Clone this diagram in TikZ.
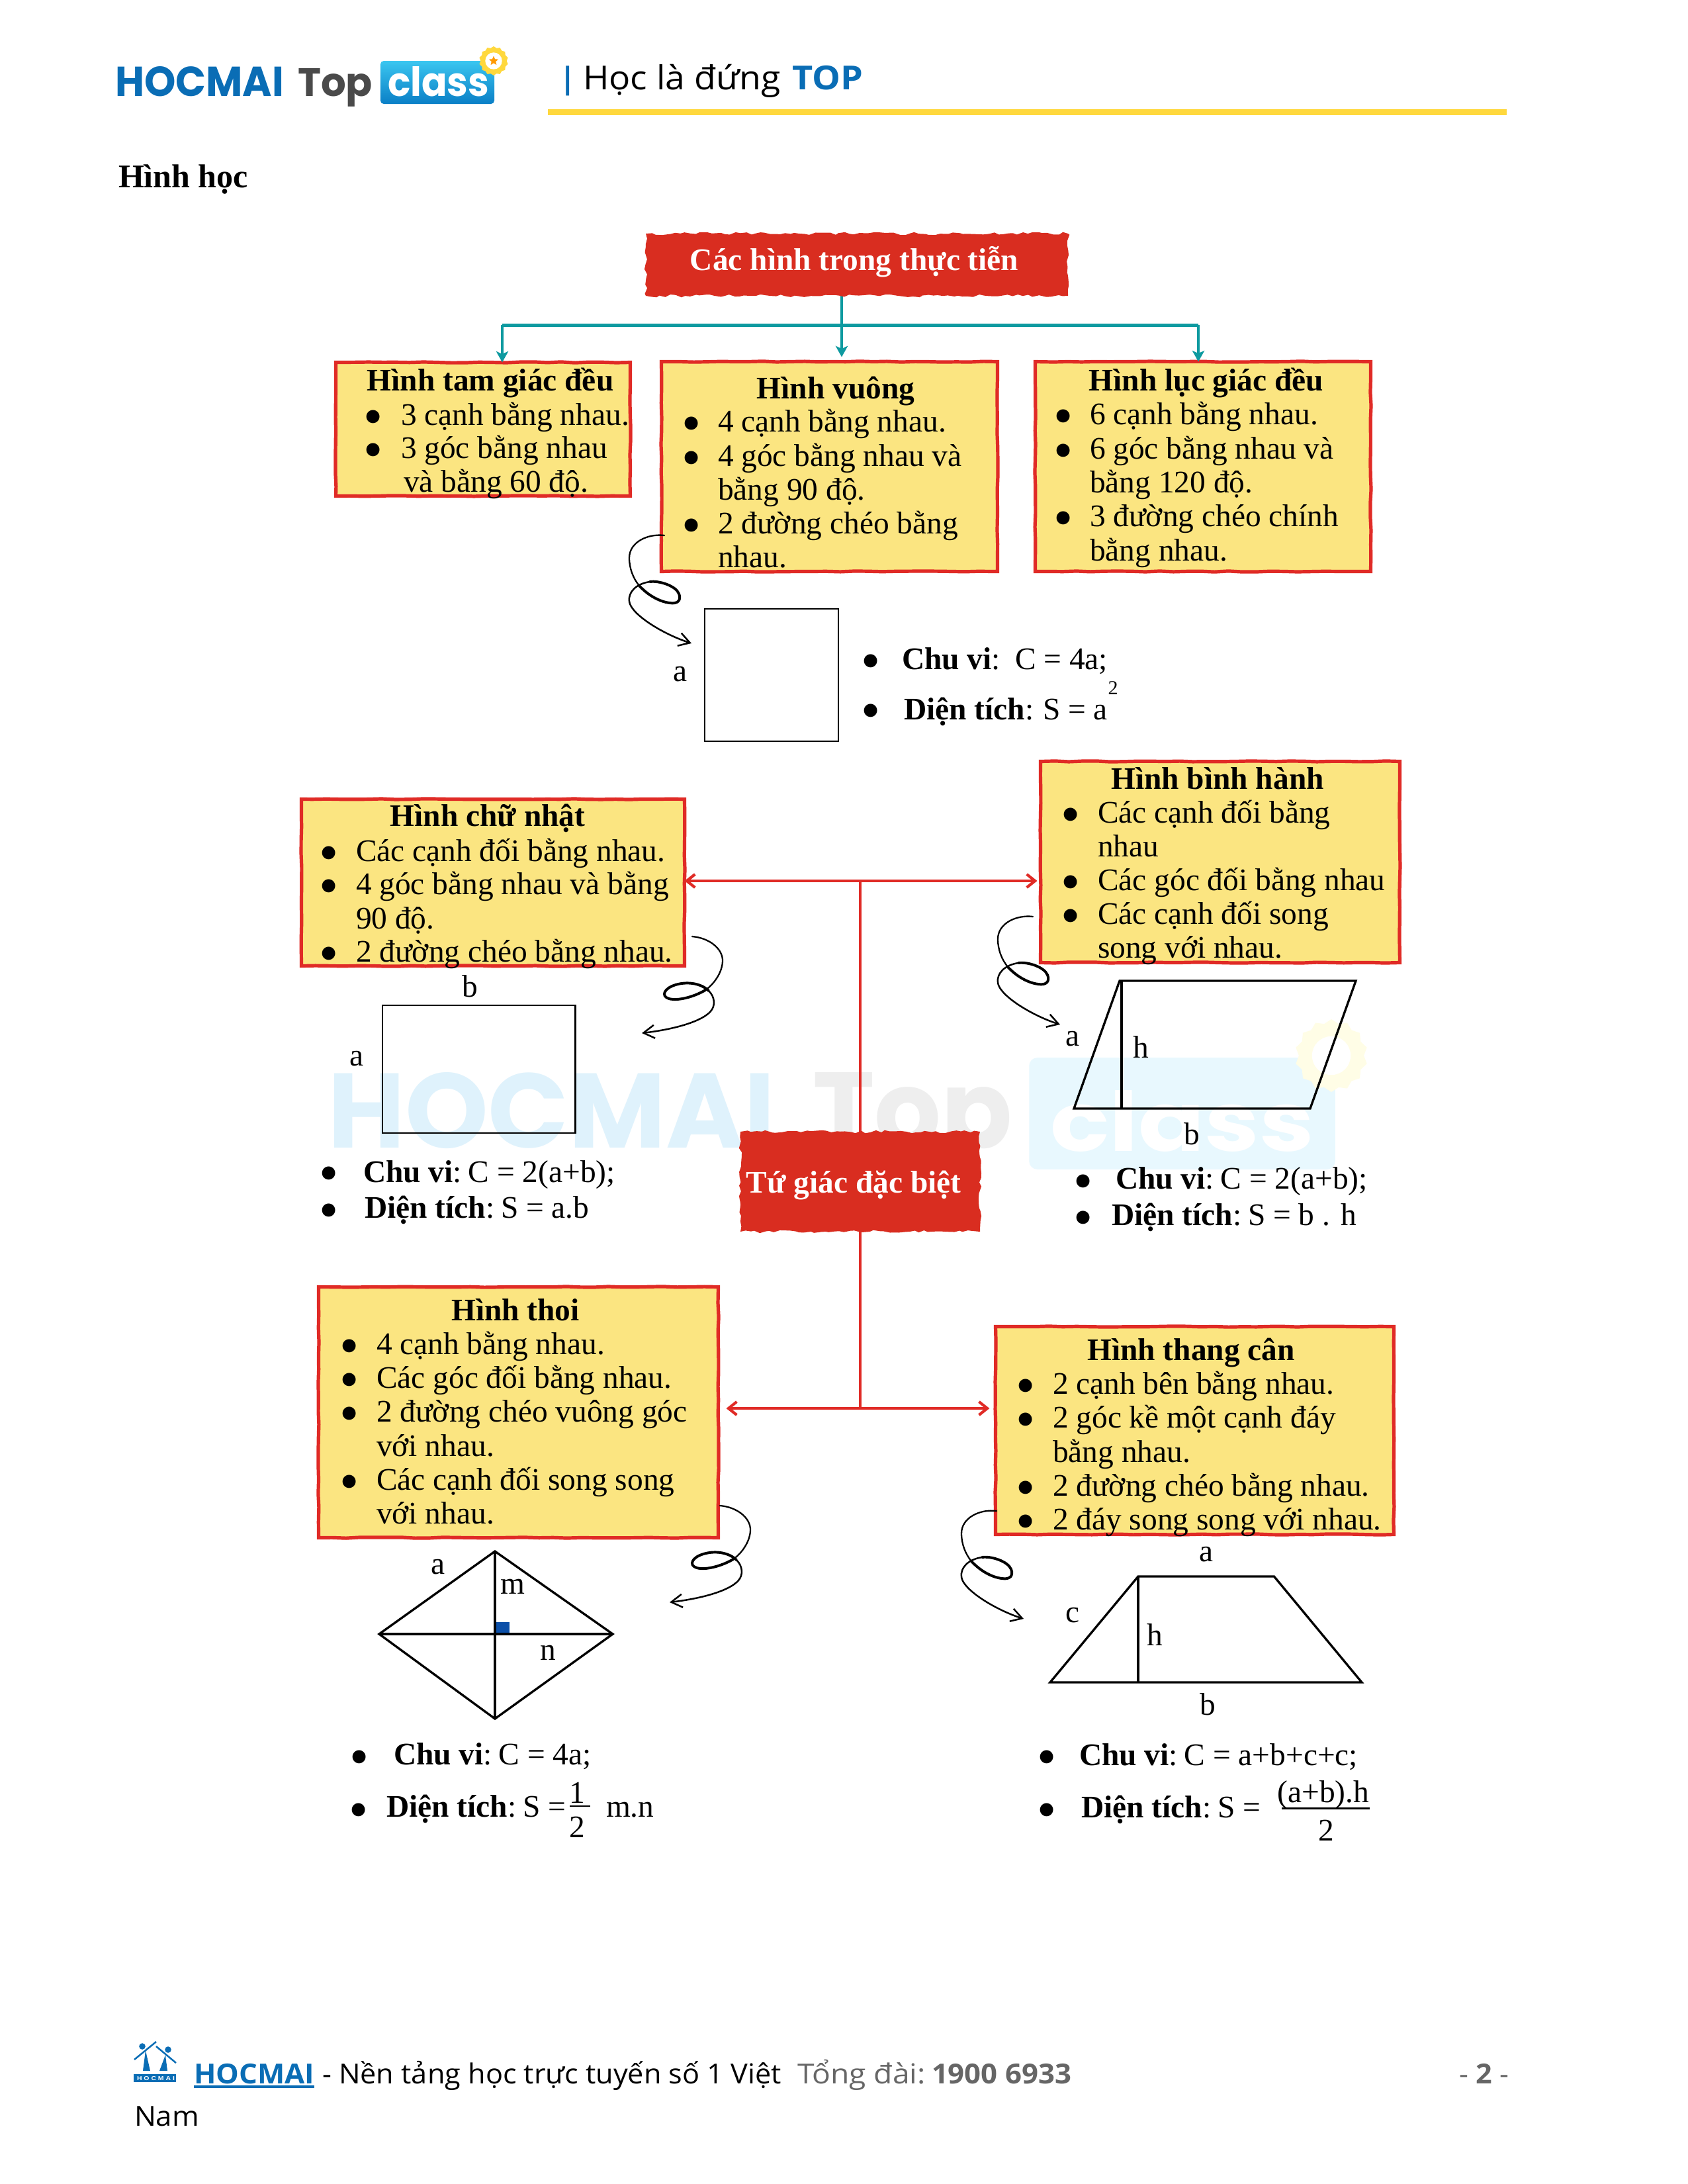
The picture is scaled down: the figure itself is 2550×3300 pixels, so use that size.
\documentclass[tikz,border=0pt]{standalone}
\usepackage{fontspec}
\usepackage{graphicx}
\usetikzlibrary{arrows.meta,decorations.pathmorphing,shapes.geometric,calc}
\setmainfont{Liberation Serif}
\newfontfamily\osans{Open Sans}
\newfontfamily\pop{Poppins}
\newfontfamily\lsans{Liberation Sans}
\newdimen\pxu \pxu=0.24bp
\definecolor{hmblue}{HTML}{0A6DB5}
\definecolor{hmgrey}{HTML}{4A4A4A}
\definecolor{ruleyel}{HTML}{FFD83D}
\definecolor{boxyel}{HTML}{FBE581}
\definecolor{boxred}{HTML}{E02B26}
\definecolor{banred}{HTML}{D92D20}
\definecolor{tealc}{HTML}{0E9AA0}
\definecolor{wmblue}{HTML}{DFF2FC}
\definecolor{wmgrey}{HTML}{EEEEEE}
\definecolor{wmbox}{HTML}{E8F8FE}
\definecolor{wmgear}{HTML}{FFFDE6}
\definecolor{sqblue}{HTML}{0B4FA8}
\definecolor{footgrey}{HTML}{666666}
\definecolor{classtop}{HTML}{3BC6F0}
\definecolor{classbot}{HTML}{0A7FC6}
\newcommand\bodyf{\fontsize{11.38bp}{13bp}\selectfont}
\newcount\txc
\newcommand\tx[4][body]{\global\advance\txc by 1 \node[#1] (t\the\txc) at ({#2},{#3}) {#4};}
\newcommand\bl[2]{\tx[dotb]{#1+1.5}{#2+15}{•}}
\newcommand\wfit[2]{\resizebox{#1\pxu}{\height}{#2}}
\newcommand\cln{:\kern-2\pxu\ }
\newcommand\ybox[5]{\node[yellowbox,minimum width={(#4-#2-5)*0.24bp},minimum height={(#5-#3-5)*0.24bp}] (#1) at ({(#2+#4)/2},{(#3+#5)/2}) {};}
\newcommand\banner[5]{\node[torn,minimum width={(#4-#2)*0.24bp},minimum height={(#5-#3)*0.24bp}] (#1) at ({(#2+#4)/2},{(#3+#5)/2}) {};}
\tikzset{
  body/.style={font=\bodyf,anchor=base west,inner sep=0pt,outer sep=0pt},
  ttl/.style={font=\bodyf\bfseries,anchor=base,inner sep=0pt,outer sep=0pt},
  lbl/.style={font=\bodyf,anchor=base,inner sep=0pt,outer sep=0pt},
  bant/.style={font=\bodyf\bfseries,anchor=base west,inner sep=0pt,text=white},
  dotb/.style={font=\fontsize{20bp}{21bp}\selectfont,anchor=base,inner sep=0pt},
  plain/.style={anchor=base west,inner sep=0pt,outer sep=0pt},
  yellowbox/.style={fill=boxyel,draw=boxred,line width=1.25bp,inner sep=0pt,outer sep=0pt,decorate,
    decoration={random steps,segment length=5bp,amplitude=0.15bp}},
  torn/.style={fill=banred,inner sep=0pt,outer sep=0pt,decorate,
    decoration={random steps,segment length=1.8bp,amplitude=0.55bp}},
  tealline/.style={draw=tealc,line width=1bp},
  tealarrow/.style={draw=tealc,line width=1bp,-{Stealth[length=4bp,width=4.4bp,inset=1bp]}},
  redline/.style={draw=boxred,line width=1bp},
  redarrow/.style={draw=boxred,line width=1bp,-{Straight Barb[length=3bp,width=4.8bp]}},
  fig/.style={draw=black,line width=0.8bp},
  swirlL/.pic={
    \draw[line width=0.55bp,line cap=round] (0,0) .. controls (-25,-3) and (-53,10) .. (-53,34) .. controls (-53,50) and (-47,65) .. (-38,76);
    \draw[line width=0.95bp,line cap=round] (-38,76) .. controls (-25,90) and (-8,100) .. (8,102) .. controls (20,104) and (26,98) .. (22,88) .. controls (17,76) and (-8,68) .. (-22,70);
    \draw[line width=0.6bp,line cap=round,-{Straight Barb[length=4bp,width=4.8bp]}] (-22,70) .. controls (-42,73) and (-55,85) .. (-53,100) .. controls (-50,120) and (0,150) .. (41,163);
  },
  swirlR/.pic={
    \draw[line width=0.55bp,line cap=round] (0,0) .. controls (25,2) and (47,18) .. (46,38) .. controls (45,55) and (33,72) .. (20,81);
    \draw[line width=0.95bp,line cap=round] (20,81) .. controls (5,90) and (-20,98) .. (-35,94) .. controls (-48,90) and (-42,78) .. (-25,73) .. controls (-5,67) and (15,72) .. (25,82);
    \draw[line width=0.6bp,line cap=round,-{Straight Barb[length=4bp,width=4.8bp]}] (25,82) .. controls (35,92) and (35,105) .. (28,113) .. controls (15,128) and (-25,140) .. (-76,146);
  }
}
\begin{document}
\begin{tikzpicture}[x=0.24bp,y=-0.24bp]
\pgfmathsetseed{7}
\useasboundingbox (0,0) rectangle (2550,3300);
\fill[white] (0,0) rectangle (2550,3300);

% watermark
\tx[plain,text=wmblue,font=\pop\bfseries]{495}{1734}{\resizebox{677\pxu}{114\pxu}{HOCMAI}}
\tx[plain,text=wmgrey,font=\pop\bfseries]{1228}{1734}{\resizebox{302\pxu}{114\pxu}{Top}}
\node[fill=wmbox,rounded corners=3bp,inner sep=0pt,minimum width=111bp,minimum height=40.5bp] (wmb) at (1786.5,1682.5) {};
\tx[plain,text=white,font=\pop\bfseries]{1587}{1739}{\resizebox{399\pxu}{92\pxu}{class}}
\node[star,star points=14,star point ratio=1.12,fill=wmgear,minimum size=26.4bp,inner sep=0pt] (wmg) at (2012,1595) {};
\node[circle,fill=white,minimum size=14bp,inner sep=0pt] (wmh) at (2012,1595) {};

% header
\tx[plain,text=hmblue,font=\pop\bfseries]{174}{145}{\resizebox{255\pxu}{45\pxu}{HOCMAI}}
\tx[plain,text=hmgrey,font=\pop\bfseries]{450}{145}{\resizebox{113\pxu}{42\pxu}{Top}}
\node[rounded corners=1.2bp,top color=classtop,bottom color=classbot,inner sep=0pt,minimum width=41.3bp,minimum height=15.6bp] (cbox) at (661,124.5) {};
\tx[plain,text=white,font=\pop\bfseries]{586}{145}{\resizebox{153\pxu}{45\pxu}{class}}
\node[star,star points=14,star point ratio=1.12,fill=ruleyel,minimum size=10.6bp,inner sep=0pt] (gear) at (746,92) {};
\node[circle,fill=white,minimum size=6.1bp,inner sep=0pt] (gearh) at (746,92) {};
\node[star,star points=5,star point ratio=2.2,fill=orange!80!yellow,minimum size=3.6bp,inner sep=0pt] (gears) at (746,92) {};
\tx[anchor=base,inner sep=0pt,text=hmblue,font=\osans\bfseries\fontsize{11bp}{13bp}\selectfont]{858}{134}{|}
\tx[plain,font=\osans\fontsize{12bp}{14bp}\selectfont]{881}{135}{\wfit{299}{Học là đứng}}
\tx[plain,text=hmblue,font=\osans\bfseries\fontsize{12bp}{14bp}\selectfont]{1197}{135}{\wfit{107}{TOP}}
\fill[ruleyel] (828,165) rectangle (2277,174);
\tx[plain,font=\fontsize{12bp}{14bp}\selectfont\bfseries]{179}{283}{Hình học}

% coordinates of the connector junctions
\coordinate (tj) at (1272,491);
\coordinate (tl) at (759,491);
\coordinate (tr) at (1811,491);
\coordinate (ru) at (1300,1331);
\coordinate (rd) at (1300,2128);

% boxes
\ybox{btam}{505}{545}{955}{752}
\ybox{bvuong}{997}{544}{1510}{866}
\ybox{bluc}{1562}{544}{2074}{866}
\ybox{bchu}{453}{1205}{1037}{1462}
\ybox{bbinh}{1570}{1148}{2118}{1457}
\ybox{bthoi}{479}{1942}{1088}{2326}
\ybox{bthang}{1502}{2002}{2109}{2321}

% connectors
\draw[tealline] (1272,438) -- (tj);
\draw[tealline,line width=1.2bp] (tl) -- (tr);
\draw[tealarrow] (tj) -- ([yshift=1.7bp]tj |- bvuong.north);
\draw[tealarrow] (tl) -- (tl |- btam.north);
\draw[tealarrow] (tr) -- (tr |- bluc.north);
\draw[redline] (ru) -- (rd);
\draw[redarrow] (ru) -- (ru -| bchu.east);
\draw[redarrow] (ru) -- ([xshift=-1.2bp]ru -| bbinh.west);
\draw[redarrow] (rd) -- ([xshift=2.9bp]rd -| bthoi.east);
\draw[redarrow] (rd) -- ([xshift=-2.2bp]rd -| bthang.west);

% banners
\banner{ban1}{976}{353}{1614}{447}
\banner{ban2}{1119}{1710}{1481}{1861}
\tx[bant]{1042}{408}{Các hình trong thực tiễn}
\tx[bant]{1127}{1802}{Tứ giác đặc biệt}

% Hinh tam giac deu
\tx[ttl]{741}{590}{Hình tam giác đều}
\bl{563}{642}\tx{606}{642}{3 cạnh bằng nhau.}
\bl{563}{692}\tx{606}{692}{3 góc bằng nhau}
\tx{610}{743}{và bằng 60 độ.}

% Hinh vuong
\tx[ttl]{1263}{602}{Hình vuông}
\bl{1044}{652}\tx{1085}{652}{4 cạnh bằng nhau.}
\bl{1044}{704}\tx{1085}{704}{4 góc bằng nhau và}
\tx{1085}{755}{bằng 90 độ.}
\bl{1044}{806}\tx{1085}{806}{2 đường chéo bằng}
\tx{1085}{857}{nhau.}

% Hinh luc giac deu
\tx[ttl]{1823}{590}{Hình lục giác đều}
\bl{1606}{641}\tx{1647}{641}{6 cạnh bằng nhau.}
\bl{1606}{693}\tx{1647}{693}{6 góc bằng nhau và}
\tx{1647}{744}{bằng 120 độ.}
\bl{1606}{795}\tx{1647}{795}{3 đường chéo chính}
\tx{1647}{847}{bằng nhau.}

% square figure
\coordinate (sv) at (1004,809);
\pic at (sv) {swirlL};
\draw[fig,line width=0.55bp] (1065,920) rectangle (1267,1120);
\tx[lbl]{1028}{1029}{a}
\bl{1315}{1011}\tx{1363}{1011}{\textbf{Chu vi}:}
\tx{1534}{1011}{C = 4a;}
\bl{1315}{1086}\tx{1366}{1087}{\textbf{Diện tích}:}
\tx{1576}{1087}{S = a}
\tx[lbl,font=\fontsize{7.2bp}{8bp}\selectfont]{1682}{1049}{2}

% Hinh chu nhat
\tx[ttl]{737}{1248}{Hình chữ nhật}
\bl{496}{1301}\tx{538}{1301}{Các cạnh đối bằng nhau.}
\bl{496}{1351}\tx{538}{1351}{4 góc bằng nhau và bằng}
\tx{538}{1403}{90 độ.}
\bl{496}{1453}\tx{538}{1453}{2 đường chéo bằng nhau.}
\coordinate (sc) at (1046,1415);
\pic at (sc) {swirlR};
\draw[fig,line width=0.6bp] (578,1519) rectangle (869.5,1712);
\tx[lbl]{710}{1506}{b}
\tx[lbl]{539}{1610}{a}
\bl{496}{1785}\tx{549}{1786}{\textbf{Chu vi}\cln C = 2(a+b);}
\bl{496}{1841}\tx{551}{1840}{\textbf{Diện tích}\cln S = a.b}

% Hinh binh hanh
\tx[ttl]{1840}{1192}{Hình bình hành}
\bl{1617}{1243}\tx{1659}{1243}{Các cạnh đối bằng}
\tx{1659}{1294}{nhau}
\bl{1617}{1345}\tx{1659}{1345}{Các góc đối bằng nhau}
\bl{1617}{1396}\tx{1659}{1396}{Các cạnh đối song}
\tx{1659}{1447}{song với nhau.}
\coordinate (sb) at (1561,1385);
\pic at (sb) {swirlL};
\draw[fig] (1692,1482) -- (2049,1482) -- (1980,1675) -- (1623,1675) -- cycle;
\draw[fig] (1695,1482) -- (1695,1675);
\tx[lbl]{1621}{1580}{a}
\tx[lbl]{1724}{1598}{h}
\tx[lbl]{1801}{1729}{b}
\bl{1636}{1797}\tx{1686}{1796}{\textbf{Chu vi}\cln C = 2(a+b);}
\bl{1636}{1852}\tx{1680}{1851}{\textbf{Diện tích}\cln S = b . h}

% Hinh thoi
\tx[ttl]{779}{1995}{Hình thoi}
\bl{527}{2046}\tx{569}{2046}{4 cạnh bằng nhau.}
\bl{527}{2097}\tx{569}{2097}{Các góc đối bằng nhau.}
\bl{527}{2148}\tx{569}{2148}{2 đường chéo vuông góc}
\tx{569}{2200}{với nhau.}
\bl{527}{2251}\tx{569}{2251}{Các cạnh đối song song}
\tx{569}{2302}{với nhau.}
\coordinate (st) at (1088,2275);
\pic at (st) {swirlR};
\fill[sqblue] (749,2451) rectangle (770,2469);
\draw[fig] (748,2344) -- (926,2469) -- (748,2597) -- (573,2469) -- cycle;
\draw[fig] (748,2344) -- (748,2597);
\draw[fig] (573,2469) -- (926,2469);
\tx[lbl]{662}{2378}{a}
\tx[lbl]{775}{2408}{m}
\tx[lbl]{828}{2508}{n}
\bl{542}{2667}\tx{595}{2666}{\textbf{Chu vi}\cln C = 4a;}
\bl{541}{2747}\tx{584}{2745}{\textbf{Diện tích}\cln S =}
\tx[lbl]{872}{2724}{1}
\draw[line width=0.5bp] (861,2729) -- (892,2729);
\tx[lbl]{872}{2776}{2}
\tx{916}{2745}{m.n}

% Hinh thang can
\tx[ttl]{1800}{2055}{Hình thang cân}
\bl{1549}{2106}\tx{1591}{2106}{2 cạnh bên bằng nhau.}
\bl{1549}{2157}\tx{1591}{2157}{2 góc kề một cạnh đáy}
\tx{1591}{2209}{bằng nhau.}
\bl{1549}{2260}\tx{1591}{2260}{2 đường chéo bằng nhau.}
\bl{1549}{2311}\tx{1591}{2311}{2 đáy song song với nhau.}
\coordinate (sh) at (1506,2283);
\pic at (sh) {swirlL};
\draw[fig] (1587,2542) -- (1720,2382) -- (1925.5,2382) -- (2058,2542) -- cycle;
\draw[fig] (1720,2382) -- (1720,2542);
\tx[lbl]{1823}{2359}{a}
\tx[lbl]{1621}{2451}{c}
\tx[lbl]{1745}{2486}{h}
\tx[lbl]{1825.5}{2591}{b}
\bl{1581}{2667}\tx{1631}{2667}{\textbf{Chu vi}\cln C = a+b+c+c;}
\bl{1581}{2747}\tx{1634}{2746}{\textbf{Diện tích}\cln S =}
\tx[lbl]{2000}{2723}{(a+b).h}
\draw[line width=0.5bp] (1937,2732.5) -- (2070,2732.5);
\tx[lbl]{2004}{2781}{2}

% footer logo
\fill[hmblue] (215,3092) circle (4.8);
\fill[hmblue] (254,3097) circle (4.8);
\draw[hmblue,line width=0.6bp] (203,3112) -- (236,3085);
\draw[hmblue,line width=0.6bp] (236,3092) -- (266,3117);
\fill[hmblue] (220,3098) -- (227,3129) -- (216,3129) -- cycle;
\fill[hmblue] (250,3105) -- (253,3129) -- (241,3129) -- cycle;
\fill[hmblue] (202,3134) rectangle (266,3146);
\tx[plain,text=white,font=\lsans\bfseries\fontsize{2bp}{2bp}\selectfont]{207}{3143}{\resizebox{57\pxu}{6\pxu}{H O C M A I}}

% footer text
\tx[plain,text=hmblue,font=\osans\bfseries\fontsize{10bp}{12bp}\selectfont]{293}{3148}{\wfit{182}{HOCMAI}}
\fill[hmblue] (293,3151) rectangle (475,3155);
\tx[plain,font=\osans\fontsize{10bp}{12bp}\selectfont]{487}{3148}{\wfit{694}{- Nền tảng học trực tuyến số 1 Việt}}
\tx[plain,text=footgrey,font=\osans\fontsize{10bp}{12bp}\selectfont]{1205}{3148}{\wfit{194}{Tổng đài:}}
\tx[plain,text=footgrey,font=\osans\bfseries\fontsize{10bp}{12bp}\selectfont]{1408}{3148}{\wfit{211}{1900 6933}}
\tx[plain,text=footgrey,font=\osans\fontsize{10bp}{12bp}\selectfont]{2205}{3148}{\wfit{75}{- \textbf{2} -}}
\tx[plain,font=\osans\fontsize{10bp}{12bp}\selectfont]{203}{3212}{\wfit{98}{Nam}}
\end{tikzpicture}
\end{document}
